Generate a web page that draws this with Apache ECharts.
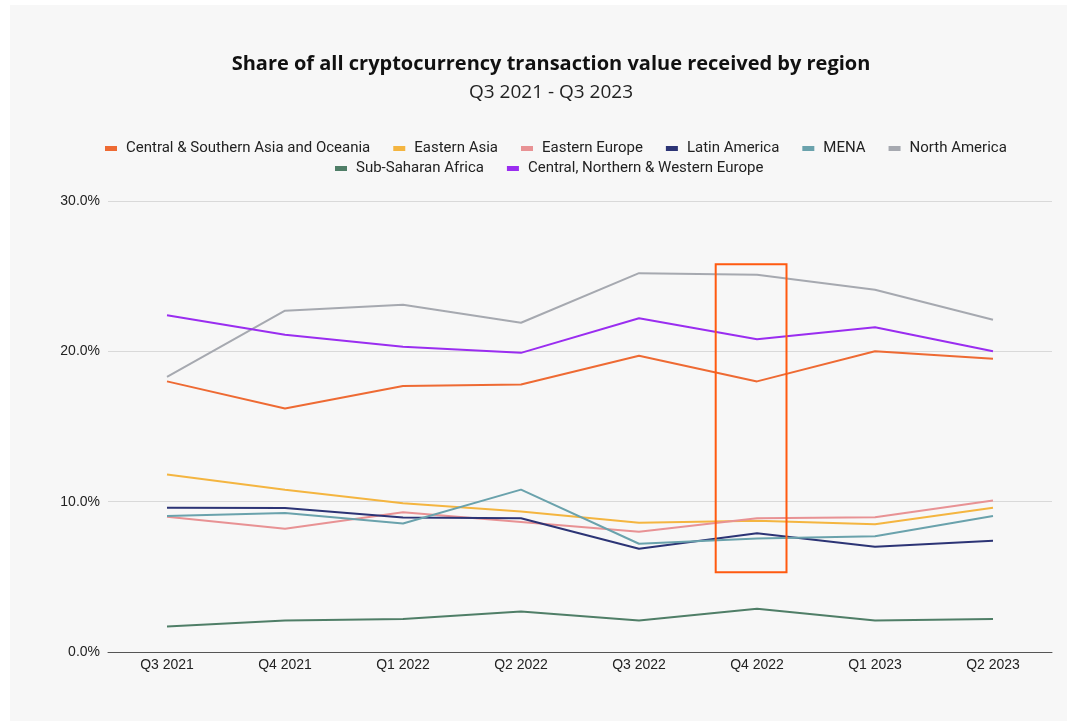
<!DOCTYPE html>
<html>
<head>
<meta charset="utf-8">
<script src="https://cdn.jsdelivr.net/npm/echarts@6/dist/echarts.min.js"></script>
<style>
  html, body { margin: 0; padding: 0; background: #ffffff; }
  #panel { position: absolute; left: 10px; top: 5px; width: 1057px; height: 716px; background: #f7f7f7; }
  #chart { position: absolute; left: 0; top: 0; width: 1077px; height: 726px; }
</style>
</head>
<body>
<div id="panel"></div>
<div id="chart"></div>
<script>
const titleText = 'Share of all cryptocurrency transaction value received by region';
const subtitleText = 'Q3 2021 - Q3 2023';
const categories = ['Q3 2021', 'Q4 2021', 'Q1 2022', 'Q2 2022', 'Q3 2022', 'Q4 2022', 'Q1 2023', 'Q2 2023'];
const yTicks = [0, 10, 20, 30];

const centralSouthernAsia = [18.0, 16.2, 17.7, 17.8, 19.7, 18.0, 20.0, 19.5];
const easternAsia        = [11.8, 10.8, 9.9, 9.35, 8.6, 8.73, 8.5, 9.6];
const easternEurope      = [9.0, 8.2, 9.3, 8.65, 8.0, 8.9, 8.97, 10.07];
const latinAmerica       = [9.6, 9.58, 8.95, 8.9, 6.87, 7.9, 7.0, 7.4];
const mena               = [9.05, 9.25, 8.55, 10.8, 7.2, 7.55, 7.7, 9.05];
const northAmerica       = [18.3, 22.7, 23.1, 21.9, 25.2, 25.1, 24.1, 22.1];
const subSaharanAfrica   = [1.7, 2.1, 2.2, 2.7, 2.1, 2.87, 2.1, 2.2];
const centralNorthWestEurope = [22.4, 21.1, 20.3, 19.9, 22.2, 20.8, 21.6, 20.0];

const highlightCategory = 'Q4 2022';
const highlightTop = 25.8;
const highlightBottom = 5.3;

const seriesDefs = [
  { name: 'Central & Southern Asia and Oceania', data: centralSouthernAsia, color: '#ee6a33' },
  { name: 'Eastern Asia', data: easternAsia, color: '#f4b540' },
  { name: 'Eastern Europe', data: easternEurope, color: '#e89294' },
  { name: 'Latin America', data: latinAmerica, color: '#2c3475' },
  { name: 'MENA', data: mena, color: '#6aa2ac' },
  { name: 'North America', data: northAmerica, color: '#a6a9b0' },
  { name: 'Sub-Saharan Africa', data: subSaharanAfrica, color: '#4f7e67' },
  { name: 'Central, Northern & Western Europe', data: centralNorthWestEurope, color: '#9a2df0' }
];

const chart = echarts.init(document.getElementById('chart'), null, { renderer: 'canvas' });
const legendText = { fontFamily: 'Roboto', fontSize: 15, color: '#222', padding: [0, 0, 0, 4] };

const option = {
  backgroundColor: 'transparent',
  animation: false,
  legend: [
    {
      data: seriesDefs.slice(0, 6).map(s => s.name),
      left: 100, top: 136, itemWidth: 12, itemHeight: 5, itemGap: 23,
      icon: 'rect', textStyle: legendText
    },
    {
      data: seriesDefs.slice(6).map(s => s.name),
      left: 330, top: 156, itemWidth: 12, itemHeight: 5, itemGap: 23,
      icon: 'rect', textStyle: legendText
    }
  ],
  grid: { left: 108, right: 25, top: 201, bottom: 74, containLabel: false },
  xAxis: {
    type: 'category',
    data: categories,
    boundaryGap: true,
    axisLine: { show: true, lineStyle: { color: '#555', width: 1 } },
    axisTick: { show: false },
    axisLabel: { fontFamily: 'Liberation Sans', fontSize: 14, color: '#222', margin: 6 }
  },
  yAxis: {
    type: 'value',
    min: yTicks[0], max: yTicks[yTicks.length - 1], interval: 10,
    axisLine: { show: false },
    axisTick: { show: false },
    splitLine: { lineStyle: { color: '#d9d9d9', width: 1 } },
    axisLabel: {
      fontFamily: 'Liberation Sans', fontSize: 14, color: '#222', margin: 8,
      formatter: v => v.toFixed(1) + '%'
    }
  },
  series: seriesDefs.map(s => ({
    name: s.name,
    type: 'line',
    data: s.data,
    symbol: 'none',
    color: s.color,
    lineStyle: { width: 2, color: s.color },
    itemStyle: { color: s.color }
  })),
  graphic: [
    { type: 'text', x: 551, y: 64, style: { text: titleText, align: 'center', verticalAlign: 'middle', font: 'bold 20px "Open Sans"', fill: '#111' } },
    { type: 'text', x: 551, y: 93, style: { text: subtitleText, align: 'center', verticalAlign: 'middle', font: '19px "Open Sans"', fill: '#222' } }
  ]
};
chart.setOption(option);

// Highlight box placed via the chart's own scales
const c = chart.convertToPixel({ xAxisIndex: 0, yAxisIndex: 0 }, [highlightCategory, highlightTop]);
const b = chart.convertToPixel({ xAxisIndex: 0, yAxisIndex: 0 }, [highlightCategory, highlightBottom]);
const p0 = chart.convertToPixel({ xAxisIndex: 0 }, categories[0]);
const p1 = chart.convertToPixel({ xAxisIndex: 0 }, categories[1]);
const band = p1 - p0;
const bx0 = c[0] - 0.35 * band;
const bx1 = c[0] + 0.25 * band;
chart.setOption({
  graphic: option.graphic.concat([
    {
      type: 'rect', z: 100,
      shape: { x: bx0, y: c[1], width: bx1 - bx0, height: b[1] - c[1] },
      style: { fill: 'none', stroke: '#ff5a10', lineWidth: 2 }
    }
  ])
});
</script>
</body>
</html>
